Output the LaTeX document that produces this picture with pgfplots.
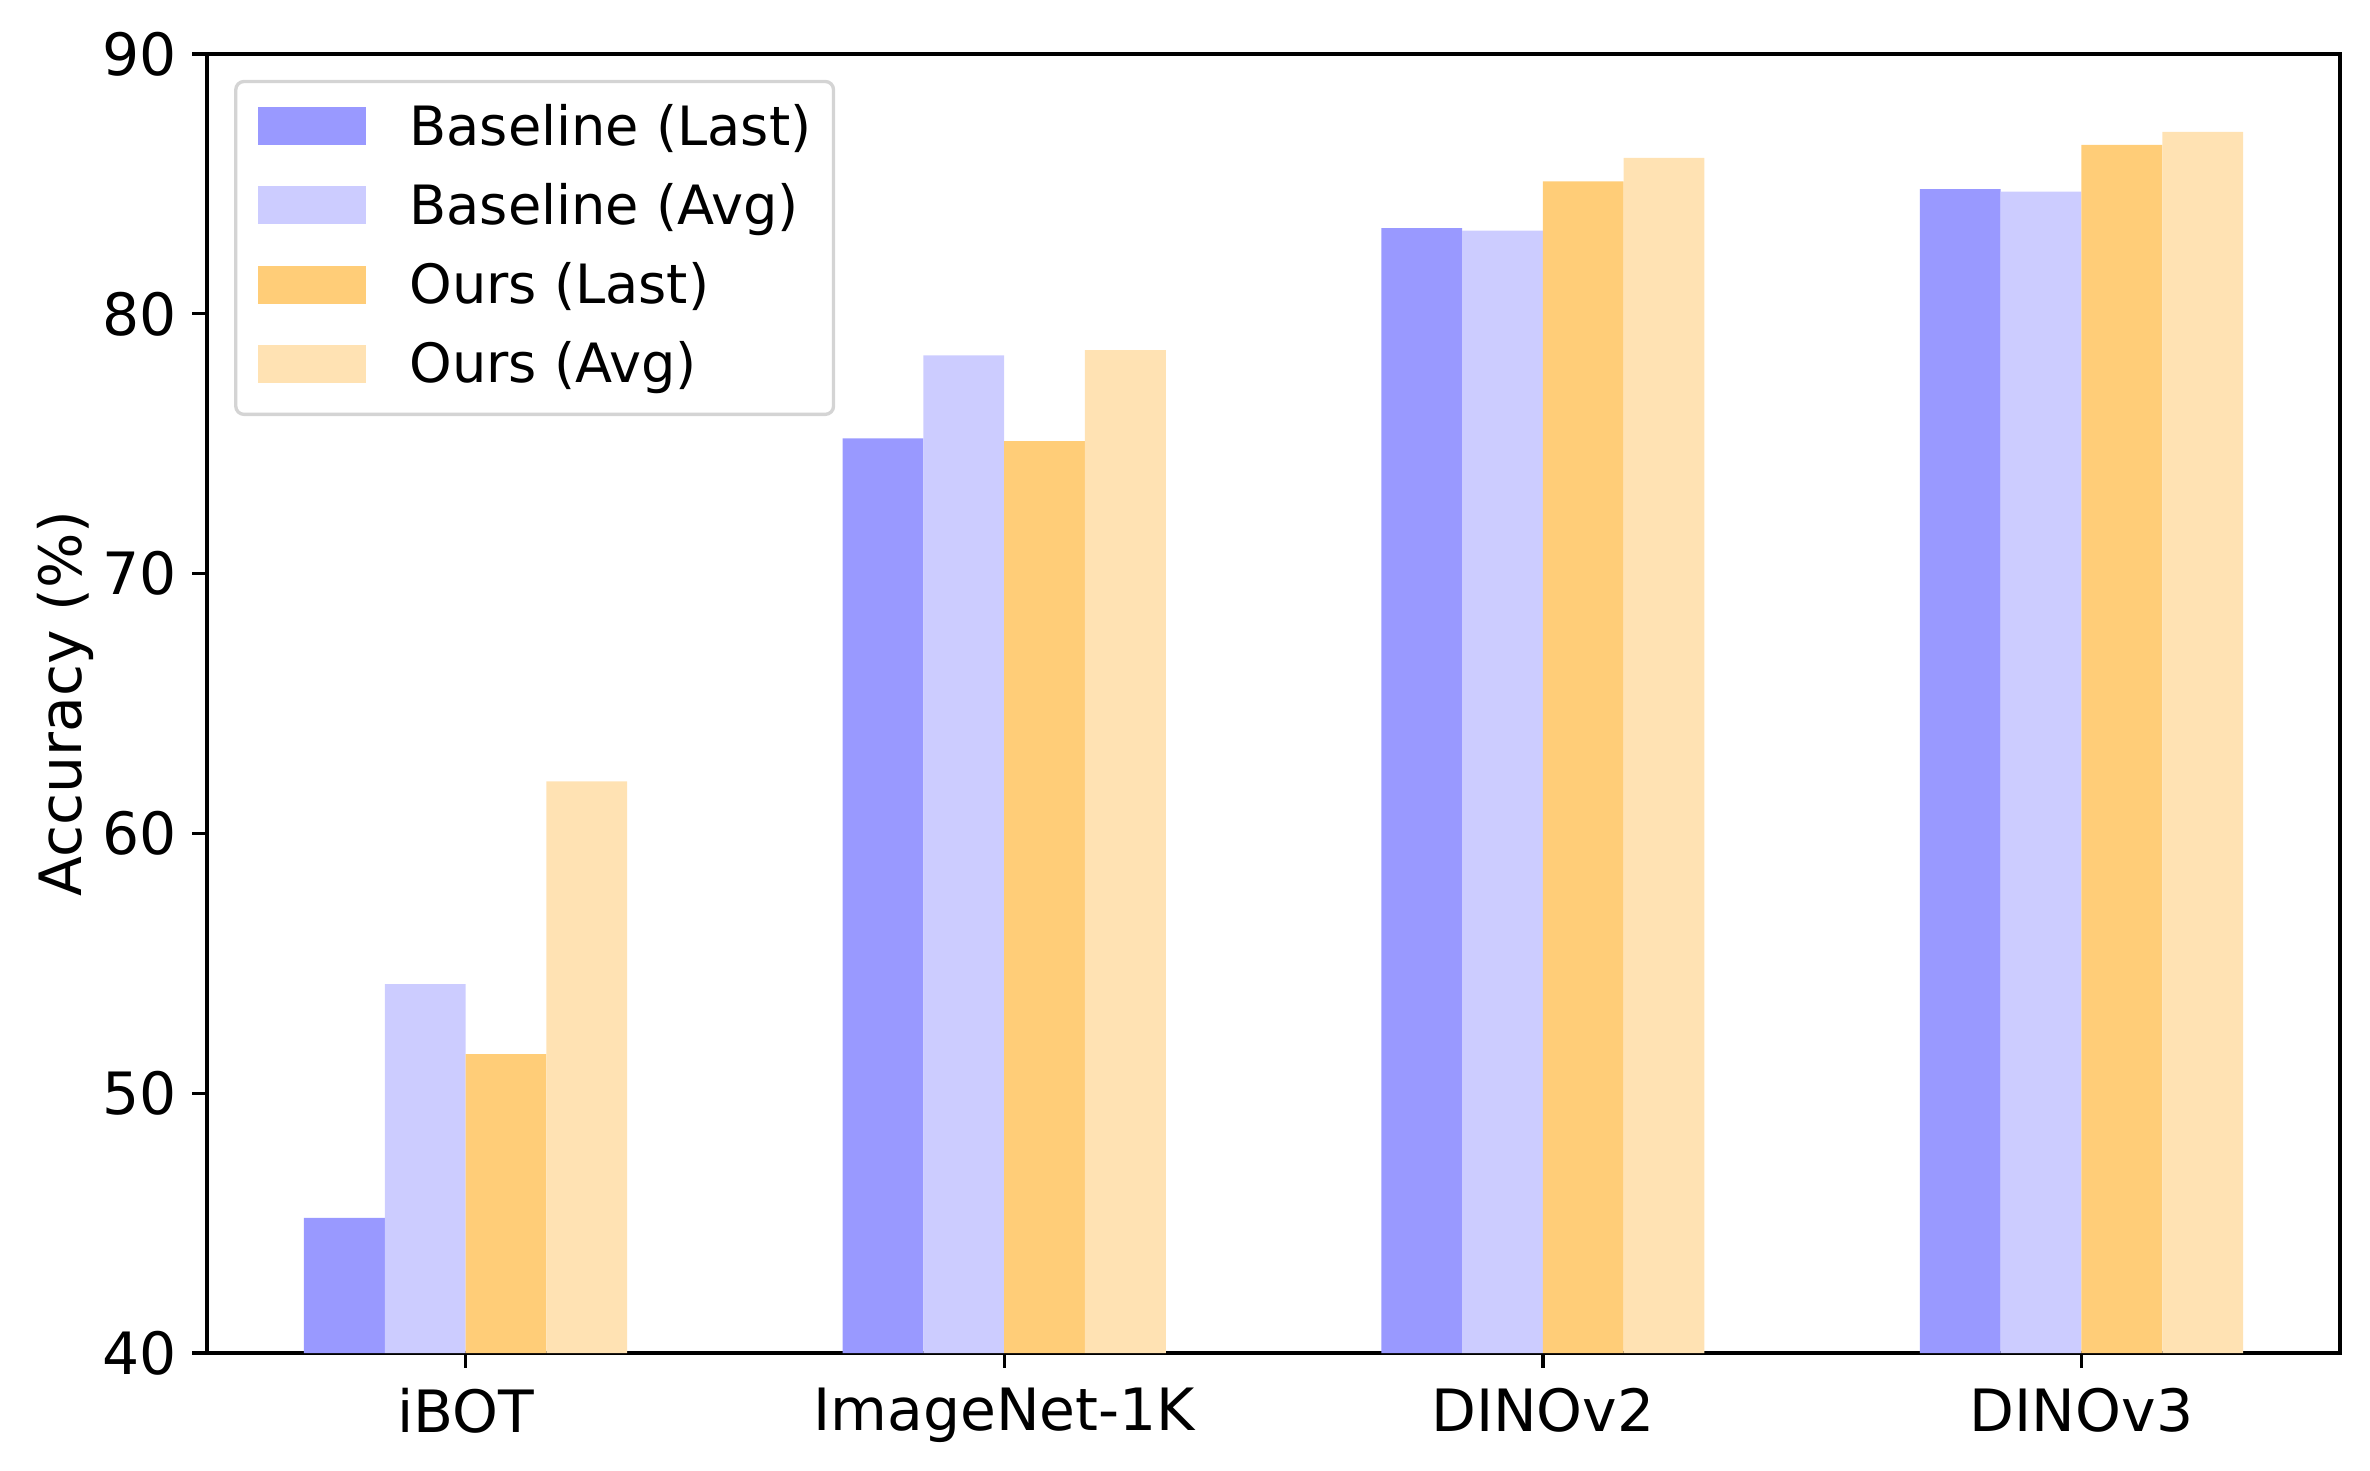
\documentclass[border=0pt]{standalone}
\usepackage{pgfplots}
\pgfplotsset{compat=1.18}
\usepackage{fontspec}
\setmainfont{DejaVu Sans}
\usetikzlibrary{calc}
\definecolor{bl}{HTML}{9999FF}
\definecolor{ba}{HTML}{CCCCFF}
\definecolor{ol}{HTML}{FFCD78}
\definecolor{oa}{HTML}{FFE2B3}
\pgfplotstableread{
x bl ba ol oa
0 45.2 54.2 51.5 62.0
1 75.2 78.4 75.1 78.6
2 83.3 83.2 85.1 86.0
3 84.8 84.7 86.5 87.0
}\data
\begin{document}
\fontsize{14}{16.8}\selectfont
\begin{tikzpicture}
\begin{axis}[
  scale only axis,
  width=511.92pt, height=311.76pt,
  xmin=-0.48, xmax=3.48,
  ymin=40, ymax=90,
  ytick={40,50,60,70,80,90},
  xtick={0,1,2,3},
  xticklabels={iBOT, ImageNet-1K, DINOv2, DINOv3},
  tick pos=left,
  tick align=outside,
  major tick length=3.5pt,
  every tick/.style={black, line width=0.8pt},
  axis line style={line width=0.8pt, black},
  /pgf/number format/assume math mode=true,
  ticklabel style={font=\fontsize{14}{16.8}\selectfont},
  yticklabel style={xshift=1.1pt},
  ylabel={Accuracy (\%)},
  ylabel style={font=\fontsize{14}{16.8}\selectfont},
  ylabel shift=-7.3pt,
  ybar=0pt,
  bar width=0.15,
  legend cell align=left,
  legend image code/.code={\fill[#1, draw=none, sharp corners, fill opacity=1] (0pt,-3.85pt) rectangle (25.9pt,5.25pt);},
  legend style={at={(0,1)}, anchor=north west, xshift=6.5pt, yshift=-6.2pt,
    draw=black!17, line width=0.8pt, rounded corners=2pt,
    fill=white, fill opacity=0.8, text opacity=1,
    font=\fontsize{13}{15.6}\selectfont,
    inner xsep=5.3pt, inner ysep=3.6pt,
    row sep=3.3pt,
    nodes={inner sep=0pt, text height=11.65pt, text depth=4.05pt},
    /tikz/every odd column/.append style={column sep=10.5pt}},
]
\addplot[fill=bl, draw=none, bar shift=-0.225] table[x=x, y=bl] {\data};
\addplot[fill=ba, draw=none, bar shift=-0.075] table[x=x, y=ba] {\data};
\addplot[fill=ol, draw=none, bar shift=0.075] table[x=x, y=ol] {\data};
\addplot[fill=oa, draw=none, bar shift=0.225] table[x=x, y=oa] {\data};
\legend{Baseline (Last), Baseline (Avg), Ours (Last), Ours (Avg)}
\end{axis}
\pgfresetboundingbox
\path ($(current axis.south west)+(-49.68pt,-28.08pt)$) rectangle ($(current axis.north east)+(7.2pt,12.96pt)$);
\end{tikzpicture}
\end{document}
